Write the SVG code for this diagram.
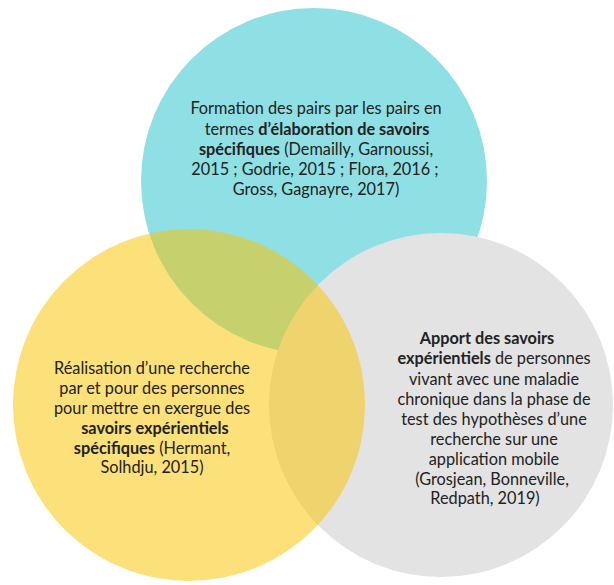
<svg xmlns="http://www.w3.org/2000/svg" width="614" height="585" viewBox="0 0 614 585">
<style>
.t{font-family:Lato,"Open Sans","Liberation Sans",sans-serif;font-size:16.3px;fill:#222;text-anchor:middle}
.b{font-weight:bold}
</style>
<rect width="614" height="585" fill="#fff"/>
<g id="connectors"/>
<g id="node-formation">
<circle cx="314" cy="181" r="173" fill="#8FE0E4"/>
<text class="t" x="316" y="114">Formation des pairs par les pairs en</text>
<text class="t" x="317" y="135">termes <tspan class="b">d’élaboration de savoirs</tspan></text>
<text class="t" x="316" y="155"><tspan class="b">spécifiques</tspan> (Demailly, Garnoussi,</text>
<text class="t" x="315" y="175">2015 ; Godrie, 2015 ; Flora, 2016 ;</text>
<text class="t" x="316" y="195">Gross, Gagnayre, 2017)</text>
</g>
<g id="node-apport">
<circle cx="441" cy="405" r="172" fill="#E3E3E3"/>
<text class="t" x="487" y="344"><tspan class="b">Apport des savoirs</tspan></text>
<text class="t" x="494" y="364"><tspan class="b">expérientiels</tspan> de personnes</text>
<text class="t" x="494" y="385">vivant avec une maladie</text>
<text class="t" x="494" y="405">chronique dans la phase de</text>
<text class="t" x="494" y="425">test des hypothèses d’une</text>
<text class="t" x="494" y="445">recherche sur une</text>
<text class="t" x="494" y="465">application mobile</text>
<text class="t" x="492" y="485">(Grosjean, Bonneville,</text>
<text class="t" x="485" y="504">Redpath, 2019)</text>
</g>
<g id="node-realisation">
<circle cx="189" cy="405" r="176" fill="#FAC300" fill-opacity="0.52"/>
<text class="t" x="152" y="374">Réalisation d’une recherche</text>
<text class="t" x="152" y="394">par et pour des personnes</text>
<text class="t" x="152" y="414">pour mettre en exergue des</text>
<text class="t" x="155" y="434"><tspan class="b">savoirs expérientiels</tspan></text>
<text class="t" x="152" y="454"><tspan class="b">spécifiques</tspan> (Hermant,</text>
<text class="t" x="152" y="473">Solhdju, 2015)</text>
</g>
</svg>
